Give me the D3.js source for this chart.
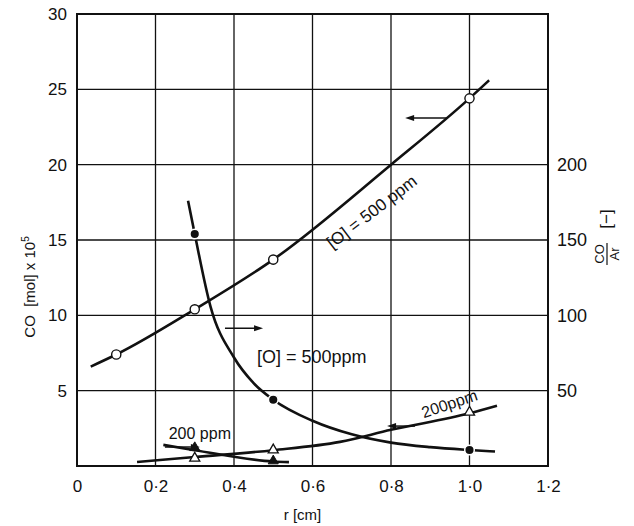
<!DOCTYPE html>
<html>
<head>
<meta charset="utf-8">
<script src="https://cdn.jsdelivr.net/npm/d3@7"></script>
<style>
  body { margin: 0; background: #fff; }
  text { font-family: "Liberation Sans", Arial, sans-serif; fill: #111; }
</style>
</head>
<body>
<svg id="chart" width="634" height="526"></svg>
<script>
// values (r in cm, CO in mol x 10^5, ratio CO/Ar)
const xTicks = [0, 0.2, 0.4, 0.6, 0.8, 1.0, 1.2];
const leftTicks = [5, 10, 15, 20, 25, 30];
const rightTicks = [50, 100, 150, 200];

// [O] = 500 ppm, CO (left axis), open circles
const co500Points = [[0.1, 7.4], [0.3, 10.4], [0.5, 13.7], [1.0, 24.4]];
const co500Curve = [[0.035, 6.6], [0.1, 7.4], [0.3, 10.4], [0.5, 13.7], [0.8, 20.0], [1.0, 24.4], [1.05, 25.6]];

// [O] = 500 ppm, CO/Ar (right axis), filled circles
const ratio500Points = [[0.3, 154], [0.5, 44], [1.0, 10.6]];
const ratio500Curve = [[0.283, 176], [0.3, 154], [0.34, 106], [0.4, 72], [0.45, 55], [0.5, 44],
                       [0.6, 30], [0.7, 21], [0.8, 15.5], [0.9, 12.5], [1.0, 10.6], [1.065, 9.6]];

// [O] = 200 ppm, CO (left axis), open triangles
const co200Points = [[0.3, 0.45], [0.5, 1.0], [1.0, 3.5]];
const co200Curve = [[0.153, 0.27], [0.3, 0.6], [0.5, 1.05], [0.67, 1.6], [0.8, 2.4], [1.0, 3.5], [1.07, 4.0]];

// [O] = 200 ppm, CO/Ar (right axis), filled triangles
const ratio200Points = [[0.3, 11.5], [0.5, 2.7]];
const ratio200Curve = [[0.22, 14], [0.3, 10.5], [0.5, 3], [0.54, 2.6]];

// arrows telling which axis a curve belongs to: [r from, r to (head), CO level]
const arrows = [[0.943, 0.836, 23.1], [0.377, 0.474, 9.15], [0.861, 0.79, 2.65], [0.224, 0.313, 1.26]];

const svg = d3.select("#chart");
const margin = {left: 77, right: 86, top: 14, bottom: 60};
const W = 634, H = 526;

const x = d3.scaleLinear().domain([0, 1.2]).range([margin.left, W - margin.right]);
const y = d3.scaleLinear().domain([0, 30]).range([H - margin.bottom, margin.top]);
const yR = d3.scaleLinear().domain([0, 300]).range([H - margin.bottom, margin.top]);

const fmt = d => d === 0 ? "0" : d3.format(".1f")(d).replace(".", "\u00b7");

// grid
const grid = svg.append("g").attr("stroke", "#111").attr("stroke-width", 1.3);
grid.selectAll(".vg").data(xTicks.slice(1, -1)).enter().append("line")
  .attr("x1", d => x(d)).attr("x2", d => x(d))
  .attr("y1", y(0)).attr("y2", y(30));
grid.selectAll(".hg").data(leftTicks.slice(0, -1)).enter().append("line")
  .attr("x1", x(0)).attr("x2", x(1.2))
  .attr("y1", d => y(d)).attr("y2", d => y(d));

// frame
svg.append("rect")
  .attr("x", x(0)).attr("y", y(30))
  .attr("width", x(1.2) - x(0)).attr("height", y(0) - y(30))
  .attr("fill", "none").attr("stroke", "#111").attr("stroke-width", 2);

// axes (labels only, lines are the frame)
const xAxis = svg.append("g").attr("transform", `translate(0,${y(0)})`)
  .call(d3.axisBottom(x).tickValues(xTicks).tickFormat(fmt).tickSize(0).tickPadding(14));
const yAxis = svg.append("g").attr("transform", `translate(${x(0)},0)`)
  .call(d3.axisLeft(y).tickValues(leftTicks).tickSize(0).tickPadding(10));
const yAxisR = svg.append("g").attr("transform", `translate(${x(1.2)},0)`)
  .call(d3.axisRight(yR).tickValues(rightTicks).tickSize(0).tickPadding(9));
[xAxis, yAxis, yAxisR].forEach(a => {
  a.select(".domain").remove();
  a.selectAll("text").attr("font-size", 17).attr("font-family", "Liberation Sans, Arial, sans-serif").attr("fill", "#111");
});
yAxisR.selectAll("text").attr("font-size", 18);

// curves
const lineL = d3.line().x(d => x(d[0])).y(d => y(d[1])).curve(d3.curveMonotoneX);
const lineR = d3.line().x(d => x(d[0])).y(d => yR(d[1])).curve(d3.curveMonotoneX);
const curves = svg.append("g").attr("fill", "none").attr("stroke", "#111").attr("stroke-width", 2.6);
curves.append("path").attr("d", lineL(co500Curve));
curves.append("path").attr("d", lineR(ratio500Curve));
curves.append("path").attr("d", lineL(co200Curve));
curves.append("path").attr("d", lineR(ratio200Curve));

// markers
const marks = svg.append("g");
marks.selectAll(".oc").data(co500Points).enter().append("circle")
  .attr("cx", d => x(d[0])).attr("cy", d => y(d[1])).attr("r", 4.6)
  .attr("fill", "#fff").attr("stroke", "#111").attr("stroke-width", 1.4);
marks.selectAll(".fc").data(ratio500Points).enter().append("circle")
  .attr("cx", d => x(d[0])).attr("cy", d => yR(d[1])).attr("r", 4.8)
  .attr("fill", "#111").attr("stroke", "#fff").attr("stroke-width", 1.5);
const tri = d3.symbol().type(d3.symbolTriangle).size(44);
marks.selectAll(".ot").data(co200Points).enter().append("path")
  .attr("d", tri).attr("transform", d => `translate(${x(d[0])},${y(d[1]) - 1})`)
  .attr("fill", "#fff").attr("stroke", "#111").attr("stroke-width", 1.3);
marks.selectAll(".ft").data(ratio200Points).enter().append("path")
  .attr("d", tri).attr("transform", d => `translate(${x(d[0])},${yR(d[1]) - 1})`)
  .attr("fill", "#111").attr("stroke", "#111").attr("stroke-width", 1);

// arrows
const arr = svg.append("g");
arrows.forEach(a => {
  const x1 = x(a[0]), x2 = x(a[1]), yy = y(a[2]);
  const dir = x2 > x1 ? 1 : -1;
  arr.append("line").attr("x1", x1).attr("x2", x2 - dir * 6).attr("y1", yy).attr("y2", yy)
    .attr("stroke", "#111").attr("stroke-width", 1.5);
  arr.append("path")
    .attr("d", `M${x2},${yy} L${x2 - dir * 9},${yy - 3} L${x2 - dir * 9},${yy + 3} Z`)
    .attr("fill", "#111");
});

// curve labels
const lab = svg.append("g").attr("font-size", 17);
lab.append("text").attr("transform", `translate(${x(0.753)},${y(16.8)}) rotate(-37.5)`)
  .attr("text-anchor", "middle").attr("dominant-baseline", "middle").text("[O] = 500 ppm");
lab.append("text").attr("x", x(0.598)).attr("y", y(7.15))
  .attr("text-anchor", "middle").attr("dominant-baseline", "middle").attr("font-size", 18).text("[O] = 500ppm");
lab.append("text").attr("transform", `translate(${x(0.95)},${y(4.05)}) rotate(-18.5)`)
  .attr("text-anchor", "middle").attr("dominant-baseline", "middle").attr("font-size", 16).text("200ppm");
lab.append("text").attr("x", x(0.313)).attr("y", y(2.05))
  .attr("text-anchor", "middle").attr("dominant-baseline", "middle").attr("font-size", 16).text("200 ppm");

// axis titles
svg.append("text").attr("transform", `translate(35,${(y(0) + y(30)) / 2 + 47}) rotate(-90)`)
  .attr("text-anchor", "middle").attr("font-size", 15)
  .html('CO&#160;&#160;[mol] x 10<tspan dy="-6" font-size="10">5</tspan>');
svg.append("text").attr("x", (x(0) + x(1.2)) / 2 - 10).attr("y", 520)
  .attr("text-anchor", "middle").attr("font-size", 15).text("r  [cm]");

const rt = svg.append("g").attr("transform", `translate(607,236) rotate(-90)`);
rt.append("text").attr("x", -18).attr("y", -3).attr("text-anchor", "middle").attr("font-size", 13).text("CO");
rt.append("line").attr("x1", -29).attr("x2", -7).attr("y1", 0).attr("y2", 0).attr("stroke", "#111").attr("stroke-width", 1.2);
rt.append("text").attr("x", -18).attr("y", 12).attr("text-anchor", "middle").attr("font-size", 13).text("Ar");
rt.append("text").attr("x", 17).attr("y", 5).attr("text-anchor", "middle").attr("font-size", 17).text("[\u2212]");
</script>
</body>
</html>
